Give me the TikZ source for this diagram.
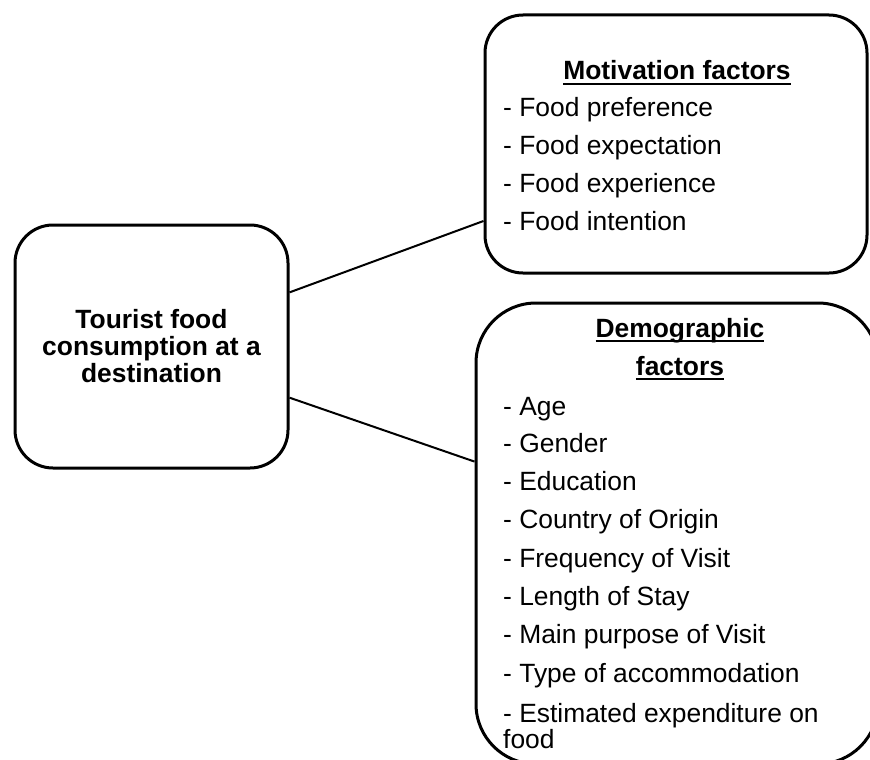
\documentclass[tikz,border=0pt]{standalone}
\usepackage{fontspec}
\setmainfont{Liberation Sans}
\usetikzlibrary{calc}
% underline that crosses the descenders, as a word processor draws it
\newcommand\ulword[1]{\setbox0\hbox{#1}\rlap{\rule[-5.2pt]{\wd0}{2.2pt}}\box0}
\begin{document}
\begin{tikzpicture}[x=1pt,y=-1pt,
  roundbox/.style={draw,line width=3pt,rounded corners=#1,inner sep=0pt},
  link/.style={line width=2pt},
  itm/.style={anchor=base west,inner sep=0pt,font=\fontsize{26.4}{30}\selectfont},
  ttl/.style={anchor=base,inner sep=0pt,font=\fontsize{26.4}{30}\selectfont\bfseries},
]
\useasboundingbox (0,0) rectangle (870,760);
\clip (0,0) rectangle (870,760);

% the three boxes
\node[roundbox=38pt,minimum width=273pt,minimum height=243pt] (core) at (151.5,346.5) {};
\node[roundbox=38pt,minimum width=382pt,minimum height=258pt] (motiv) at (676,144) {};
\node[roundbox=60pt,minimum width=402pt,minimum height=461pt] (demo) at (677,533.5) {};

% central concept
\node[ttl] (core1) at (151.5,328) {Tourist food};
\node[ttl] (core2) at (151.5,355) {consumption at a};
\node[ttl] (core3) at (151.5,382) {destination};

% motivation factors
\node[ttl] (mtitle) at (677,80) {\ulword{Motivation factors}};
\foreach \t/\y [count=\i] in {Food preference/116, Food expectation/154,
    Food experience/192, Food intention/230}
  \node[itm] (m\i) at (503,\y) {- \t};

% demographic factors
\node[ttl] (dtitle1) at (680,337) {\ulword{Demographic}};
\node[ttl] (dtitle2) at (680,375) {\ulword{factors}};
\foreach \t/\y [count=\i] in {Age/415, Gender/452, Education/490,
    Country of Origin/528, Frequency of Visit/567, Length of Stay/605,
    Main purpose of Visit/643, Type of accommodation/682,
    Estimated expenditure on/722}
  \node[itm] (d\i) at (503,\y) {- \t};
\node[itm] (d10) at (503,748) {food};

% connectors
\coordinate (c1) at ($(core.north east)!0.28!(core.south east)$);
\coordinate (c2) at ($(core.north east)!0.708!(core.south east)$);
\coordinate (t1) at ($(motiv.north west)!0.795!(motiv.south west)$);
\coordinate (t2) at ($(demo.north west)!0.345!(demo.south west)$);
\draw[link] (c1) -- (t1);
\draw[link] (c2) -- (t2);
\end{tikzpicture}
\end{document}
